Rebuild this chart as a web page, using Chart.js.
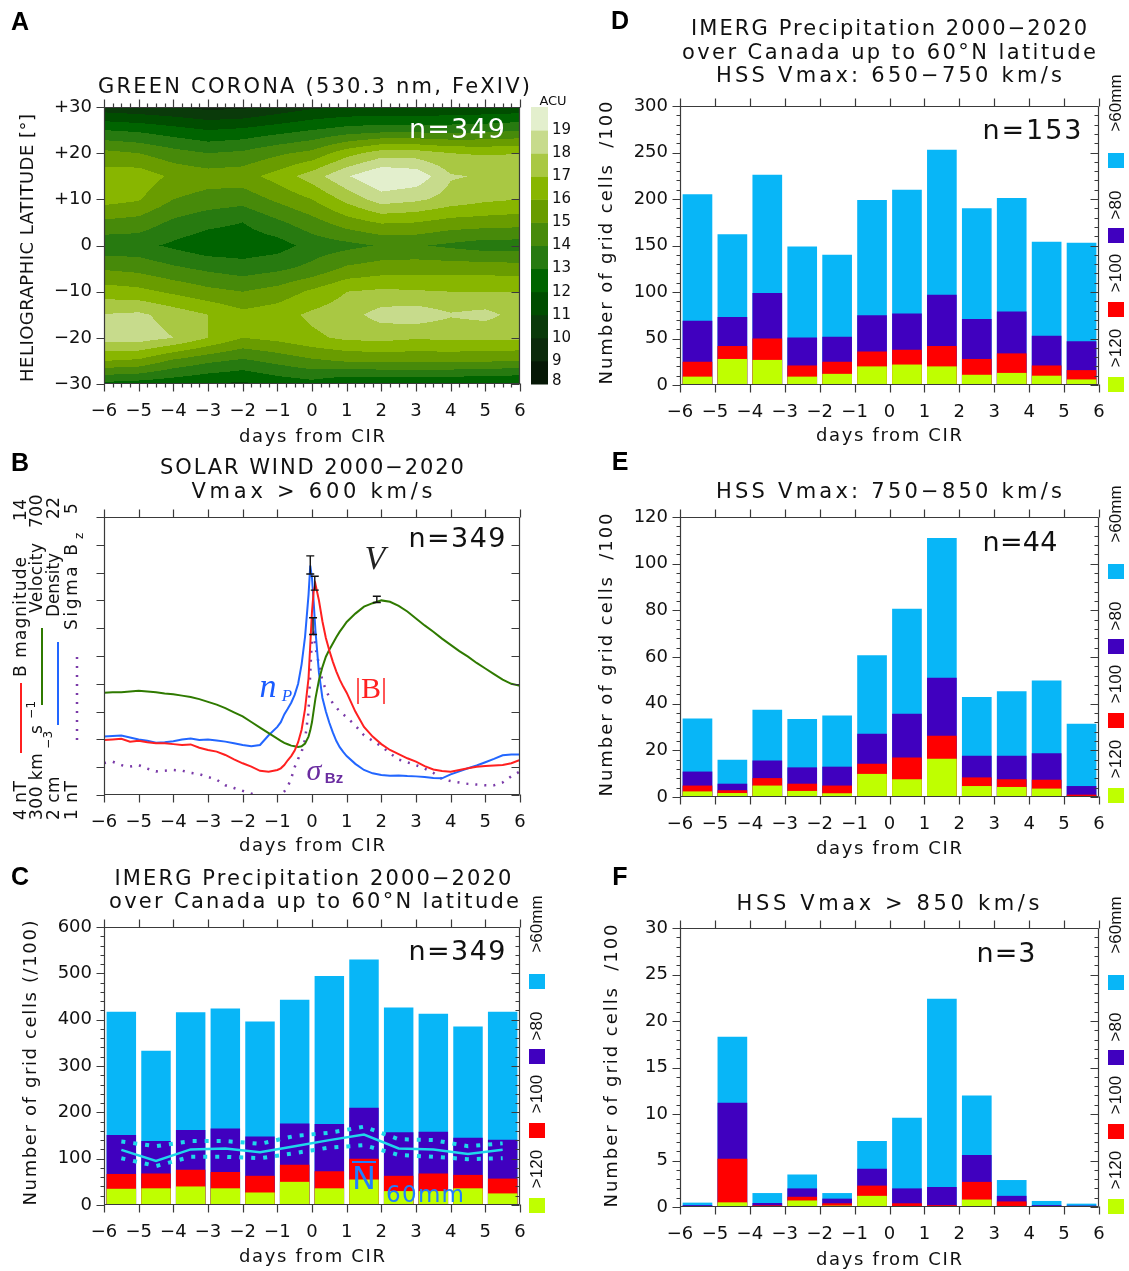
<!DOCTYPE html>
<html>
<head>
<meta charset="utf-8">
<title>Solar wind, green corona and IMERG precipitation around CIR onsets</title>
<script src="https://cdn.jsdelivr.net/npm/chart.js@4.4.1/dist/chart.umd.min.js"></script>
<style>
  html, body { margin: 0; padding: 0; background: #ffffff; }
  #page { position: relative; width: 1129px; height: 1271px; overflow: hidden; background: #fff; }
  #page canvas { position: absolute; left: 0; top: 0; }
</style>
</head>
<body>
<div id="page">
  <canvas id="panelA" width="1129" height="1271"></canvas>
  <canvas id="panelB" width="1129" height="1271"></canvas>
  <canvas id="panelC" width="1129" height="1271"></canvas>
  <canvas id="panelD" width="1129" height="1271"></canvas>
  <canvas id="panelE" width="1129" height="1271"></canvas>
  <canvas id="panelF" width="1129" height="1271"></canvas>
</div>
<script>
// ---------------------------------------------------------------
// Data
// ---------------------------------------------------------------
const dayTicks = [-6, -5, -4, -3, -2, -1, 0, 1, 2, 3, 4, 5, 6];
const barDays  = [-5.5, -4.5, -3.5, -2.5, -1.5, -0.5, 0.5, 1.5, 2.5, 3.5, 4.5, 5.5];

// A: green-corona brightness (ACU) on a day x heliographic-latitude grid
const coronaDays = [-6, -5, -4, -3, -2, -1, 0, 1, 2, 3, 4, 5, 6];
const coronaLats = [30, 25, 20, 15, 10, 5, 0, -5, -10, -15, -20, -25, -30];
const acuLatN30 = [10.4, 10.2, 10.0, 9.7, 9.8, 10.3, 10.8, 11.0, 11.0, 11.0, 11.1, 11.2, 11.3];
const acuLatN25 = [13.0, 12.8, 12.4, 12.0, 12.2, 12.6, 13.0, 13.4, 13.6, 13.6, 13.6, 13.7, 13.9];
const acuLatN20 = [15.3, 15.0, 14.4, 14.0, 14.2, 14.8, 15.3, 16.6, 17.5, 17.5, 17.0, 16.9, 17.0];
const acuLatN15 = [16.5, 16.6, 15.8, 15.5, 15.6, 16.4, 17.5, 18.9, 20.0, 19.7, 18.1, 17.9, 17.5];
const acuLatN10 = [16.4, 16.1, 15.0, 14.6, 14.4, 15.2, 16.0, 17.3, 18.5, 18.2, 17.6, 17.2, 17.0];
const acuLatN05 = [14.8, 14.6, 13.8, 13.3, 13.0, 13.8, 14.6, 15.5, 16.1, 16.0, 15.6, 15.5, 15.4];
const acuLatEq  = [13.3, 13.3, 12.8, 12.3, 12.3, 12.55, 13.4, 13.7, 14.1, 14.1, 13.8, 13.5, 13.5];
const acuLatS05 = [14.9, 14.7, 14.2, 13.8, 13.5, 13.8, 14.3, 15.2, 15.5, 15.6, 15.6, 15.6, 15.5];
const acuLatS10 = [16.5, 16.3, 15.8, 15.3, 15.0, 15.4, 16.2, 17.0, 17.2, 17.1, 17.0, 17.0, 17.0];
const acuLatS15 = [18.05, 18.2, 17.6, 17.0, 16.3, 16.6, 17.2, 17.6, 18.4, 18.6, 18.1, 18.3, 17.6];
const acuLatS20 = [18.4, 18.5, 18.0, 17.0, 16.0, 16.3, 16.8, 17.2, 17.3, 17.1, 17.2, 17.2, 17.2];
const acuLatS25 = [16.0, 15.8, 14.8, 14.2, 13.8, 14.3, 14.8, 15.1, 15.2, 15.2, 15.2, 15.1, 15.0];
const acuLatS30 = [12.7, 12.5, 12.3, 12.0, 11.8, 12.3, 12.6, 12.0, 12.0, 12.0, 12.0, 11.9, 11.8];
const acuLevels = [8, 9, 10, 11, 12, 13, 14, 15, 16, 17, 18, 19, 20];
const acuColors = ['#061806', '#0b2a0b', '#0a3a0a', '#004d00', '#006400', '#277a10',
                   '#478a0a', '#699c00', '#88b600', '#a9c843', '#c7db8c', '#e3efcd'];

// B: solar-wind superposed epochs
const swDays = [-6, -5.75, -5.5, -5.25, -5, -4.75, -4.5, -4.25, -4, -3.75, -3.5, -3.25, -3, -2.75, -2.5, -2.25,
  -2, -1.75, -1.5, -1.25, -1, -0.9, -0.8, -0.7, -0.6, -0.5, -0.4, -0.3, -0.2, -0.1, -0.05, 0, 0.05, 0.1, 0.2,
  0.3, 0.4, 0.5, 0.6, 0.7, 0.8, 0.9, 1, 1.25, 1.5, 1.75, 2, 2.25, 2.5, 2.75, 3, 3.25, 3.5, 3.75, 4, 4.25, 4.5,
  4.75, 5, 5.25, 5.5, 5.75, 6];
const swBmag = [5.98, 6.00, 6.02, 5.92, 5.95, 5.90, 5.86, 5.86, 5.83, 5.80, 5.82, 5.70, 5.62, 5.56, 5.44, 5.28,
  5.14, 5.02, 4.87, 4.84, 4.90, 4.96, 5.08, 5.25, 5.40, 5.60, 5.90, 6.35, 7.1, 8.2, 9.4, 10.6, 11.35, 11.58, 11.0,
  10.25, 9.65, 9.2, 8.8, 8.45, 8.15, 7.9, 7.68, 7.0, 6.45, 6.1, 5.83, 5.62, 5.47, 5.32, 5.20, 5.04, 4.92, 4.86,
  4.84, 4.90, 4.96, 5.02, 5.04, 5.06, 5.08, 5.14, 5.26];
const swVelocity = [447, 448, 448, 449, 450, 449, 448, 446, 445, 443, 441, 438, 434, 430, 425, 419,
  413, 405, 397, 389, 381, 378, 375, 373, 371, 370, 369, 370, 374, 384, 393, 405, 422, 439, 465,
  484, 499, 509, 518, 527, 535, 542, 549, 561, 571, 576, 580, 578, 572, 564, 554, 544, 535, 525,
  516, 507, 499, 490, 482, 474, 466, 460, 457];
const swDensity = [6.20, 6.24, 6.28, 6.14, 6.00, 5.90, 5.76, 5.80, 5.86, 6.00, 6.06, 5.96, 6.00, 5.92, 5.84, 5.72,
  5.60, 5.50, 5.60, 6.30, 6.90, 7.24, 7.80, 8.20, 8.64, 9.20, 10.0, 11.4, 13.4, 16.4, 18.5, 17.6, 15.8, 13.8, 10.8,
  9.0, 8.0, 7.2, 6.5, 5.9, 5.44, 5.10, 4.80, 4.24, 3.80, 3.56, 3.44, 3.38, 3.40, 3.36, 3.34, 3.30, 3.22, 3.20,
  3.48, 3.70, 3.92, 4.12, 4.36, 4.60, 4.86, 4.92, 4.92];
const swSigmaBz = [1.46, 1.48, 1.43, 1.41, 1.43, 1.38, 1.34, 1.35, 1.36, 1.35, 1.32, 1.30, 1.26, 1.22, 1.14, 1.10,
  1.06, 1.02, 0.98, 0.96, 0.96, 1.00, 1.05, 1.12, 1.24, 1.40, 1.52, 1.62, 1.80, 2.20, 2.76, 3.28, 3.32, 3.12, 2.88,
  2.64, 2.52, 2.40, 2.32, 2.26, 2.20, 2.16, 2.12, 2.00, 1.86, 1.78, 1.70, 1.60, 1.51, 1.47, 1.43, 1.38, 1.32, 1.23,
  1.20, 1.18, 1.16, 1.15, 1.14, 1.14, 1.18, 1.27, 1.34];
// peak uncertainties: day, low, high, quantity axis
const swErrDays = [-0.05, 0.08, 0.03, 1.87];
const swErrLow  = [17.9, 11.37, 3.31, 577];
const swErrHigh = [19.2, 11.87, 3.55, 586];
const swErrAxis = ['yN', 'yB', 'yS', 'yV'];

// C: all HSS events (n=349), grid cells /100 exceeding each threshold
const cGt60  = [417, 333, 416, 424, 396, 443, 494, 530, 426, 413, 385, 417];
const cGt80  = [151, 138, 162, 165, 148, 176, 175, 210, 157, 158, 145, 141];
const cGt100 = [67, 68, 76, 71, 63, 87, 73, 100, 63, 68, 65, 57];
const cGt120 = [35, 36, 40, 36, 27, 50, 36, 55, 30, 30, 36, 25];
const cN60mean  = [119, 95, 120, 122, 114, 127, 140, 152, 122, 120, 110, 119];
const cN60upper = [137, 127, 138, 138, 132, 149, 156, 169, 142, 140, 127, 133];
const cN60lower = [101, 84, 104, 104, 101, 112, 124, 129, 108, 104, 99, 101];

// D: HSS Vmax 650-750 km/s (n=153)
const dGt60  = [205, 162, 226, 149, 140, 199, 210, 253, 190, 201, 154, 153];
const dGt80  = [69, 73, 99, 51, 52, 75, 77, 97, 71, 79, 53, 47];
const dGt100 = [25, 42, 50, 21, 25, 36, 38, 42, 28, 34, 21, 16];
const dGt120 = [9, 28, 27, 9, 12, 20, 22, 20, 11, 13, 10, 6];

// E: HSS Vmax 750-850 km/s (n=44)
const eGt60  = [33.6, 16.0, 37.4, 33.4, 34.9, 60.7, 80.7, 111.0, 42.9, 45.3, 49.9, 31.4];
const eGt80  = [10.9, 5.7, 15.6, 12.7, 13.0, 27.1, 35.7, 51.1, 17.7, 17.7, 18.7, 4.7];
const eGt100 = [4.9, 2.9, 8.1, 5.7, 4.9, 14.3, 16.9, 26.3, 8.4, 7.6, 7.4, 1.0];
const eGt120 = [2.4, 1.7, 4.9, 2.6, 1.6, 9.9, 7.6, 16.4, 4.7, 4.3, 3.6, 0.4];

// F: HSS Vmax > 850 km/s (n=3)
const fGt60  = [0.47, 18.3, 1.5, 3.5, 1.5, 7.1, 9.6, 22.4, 12.0, 2.9, 0.65, 0.36];
const fGt80  = [0.2, 11.2, 0.43, 2.0, 0.9, 4.1, 2.0, 2.15, 5.6, 1.2, 0.2, 0.15];
const fGt100 = [0.1, 5.2, 0.18, 1.1, 0.4, 2.3, 0.4, 0.2, 2.7, 0.6, 0.1, 0.07];
const fGt120 = [0.07, 0.5, 0.1, 0.7, 0.15, 1.2, 0.07, 0.03, 0.8, 0.1, 0.03, 0.03];

// ---------------------------------------------------------------
// Styling
// ---------------------------------------------------------------
const FONT  = "'DejaVu Sans', 'Liberation Sans', Arial, sans-serif";
const NARROW = "'Liberation Sans', Arial, sans-serif";
const SERIF = "'Liberation Serif', 'DejaVu Serif', 'Times New Roman', serif";
const SKY = '#08b6f7', PURPLE = '#4000bf', RED = '#ff0000', LIME = '#bfff00', CYAN = '#1fd8ea';
const INK = '#111111', FRAME = '#3a3a3a';
const PAGE_W = 1129, PAGE_H = 1271;
const X_AXIS_H = 40, Y_AXIS_W = 70;
const TITLE = '21px ' + FONT, LABEL = '18px ' + FONT, NTXT = '27px ' + FONT, LETTER = 'bold 25px ' + NARROW;

Chart.defaults.font.family = FONT;
Chart.defaults.color = INK;

const minusFmt = v => (v < 0 ? '\u2212' + Math.abs(v) : String(v));
const latFmt = v => (v > 0 ? '+' + v : minusFmt(v));

// ---------------------------------------------------------------
// Text helpers
// ---------------------------------------------------------------
// centred text stretched to a given width (width null keeps natural spacing)
function fitText(ctx, s, cx, cy, width, font, color, rotate) {
  ctx.save();
  ctx.font = font;
  ctx.fillStyle = color;
  ctx.textBaseline = 'middle';
  ctx.textAlign = 'left';
  const hasLS = 'letterSpacing' in ctx;
  if (hasLS) ctx.letterSpacing = '0px';
  const n = Array.from(s).length;
  const w0 = ctx.measureText(s).width;
  const ls = (hasLS && n > 1 && width) ? (width - w0) / (n - 1) : 0;
  if (hasLS) ctx.letterSpacing = ls.toFixed(2) + 'px';
  const total = w0 + ls * (n - 1);
  ctx.translate(cx, cy);
  if (rotate) ctx.rotate(rotate);
  ctx.fillText(s, -total / 2, 0);
  ctx.restore();
}
function plainText(ctx, s, x, y, font, color, align, spacing) {
  ctx.save();
  ctx.font = font;
  ctx.fillStyle = color;
  ctx.textBaseline = 'middle';
  ctx.textAlign = align || 'left';
  if ('letterSpacing' in ctx) ctx.letterSpacing = (spacing || 0) + 'px';
  ctx.fillText(s, x, y);
  ctx.restore();
}
// vertical text reading upwards from yBottom; optional length stretches the spacing
function upText(ctx, s, cx, yBottom, font, color, length) {
  ctx.save();
  ctx.font = font;
  ctx.fillStyle = color;
  ctx.textBaseline = 'middle';
  ctx.textAlign = 'left';
  const hasLS = 'letterSpacing' in ctx;
  if (hasLS) {
    ctx.letterSpacing = '0px';
    const n = Array.from(s).length;
    const w0 = ctx.measureText(s).width;
    const ls = (length && n > 1) ? (length - w0) / (n - 1) : 0.5;
    ctx.letterSpacing = ls.toFixed(2) + 'px';
  }
  ctx.translate(cx, yBottom);
  ctx.rotate(-Math.PI / 2);
  ctx.fillText(s, 0, 0);
  ctx.restore();
}

// ---------------------------------------------------------------
// Shared axis / layout builders
// ---------------------------------------------------------------
function layoutFor(area, yW) {
  return { padding: {
    left: area.left - yW,
    right: PAGE_W - area.right,
    top: area.top,
    bottom: PAGE_H - area.bottom - X_AXIS_H
  } };
}
function dayAxis() {
  return {
    type: 'linear', position: 'bottom', min: -6, max: 6, offset: false,
    grid: { display: false, drawTicks: false }, border: { display: false },
    ticks: { stepSize: 1, autoSkip: false, maxRotation: 0, padding: 17, color: INK,
             font: { family: FONT, size: 18 }, callback: minusFmt },
    afterFit(s) { s.height = X_AXIS_H; }
  };
}
function valueAxis(min, max, step, fmt) {
  return {
    type: 'linear', position: 'left', min, max,
    grid: { display: false, drawTicks: false }, border: { display: false },
    ticks: { stepSize: step, autoSkip: false, padding: 12, color: INK,
             font: { family: FONT, size: 18 }, callback: fmt || (v => String(v)) },
    afterFit(s) { s.width = Y_AXIS_W; }
  };
}
function hiddenAxis(min, max) {
  return { type: 'linear', display: false, min, max };
}

// frame with major/minor ticks on all four sides
function frameTicks(id, yId, yMajorStep, yMinorStep, xMinorStep) {
  return {
    id,
    afterDatasetsDraw(chart) {
      const { ctx, chartArea: a, scales } = chart;
      const xs = scales.x, ys = scales[yId];
      const L = Math.round(a.left) + 0.5, R = Math.round(a.right) - 0.5;
      const T = Math.round(a.top) + 0.5, B = Math.round(a.bottom) - 0.5;
      ctx.save();
      ctx.strokeStyle = FRAME;
      ctx.lineWidth = 1.2;
      ctx.beginPath();
      const seg = (x1, y1, x2, y2) => { ctx.moveTo(x1, y1); ctx.lineTo(x2, y2); };
      seg(L, T, R, T); seg(R, T, R, B); seg(R, B, L, B); seg(L, B, L, T);
      for (const d of dayTicks) {
        const p = Math.round(xs.getPixelForValue(d)) + 0.5;
        seg(p, B, p, B + 8); seg(p, T, p, T - 8);
      }
      if (xMinorStep) {
        for (let k = 0; k * xMinorStep <= 12 + 1e-9; k++) {
          const p = Math.round(xs.getPixelForValue(-6 + k * xMinorStep)) + 0.5;
          seg(p, B, p, B + 4); seg(p, T, p, T - 4);
        }
      }
      const nMaj = Math.round((ys.max - ys.min) / yMajorStep);
      for (let k = 0; k <= nMaj; k++) {
        const p = Math.round(ys.getPixelForValue(ys.min + k * yMajorStep)) + 0.5;
        seg(L - 8, p, L, p); seg(R - 8, p, R, p);
      }
      if (yMinorStep) {
        const nMin = Math.round((ys.max - ys.min) / yMinorStep);
        for (let k = 0; k <= nMin; k++) {
          const p = Math.round(ys.getPixelForValue(ys.min + k * yMinorStep)) + 0.5;
          seg(L - 4, p, L, p); seg(R - 4, p, R, p);
        }
      }
      ctx.stroke();
      ctx.restore();
    }
  };
}

// threshold key on the right of the precipitation panels
function thresholdKey(ctx, a) {
  const x0 = a.right + 9, cx = a.right + 17;
  const items = [['>60mm', SKY, -3, 47], ['>80', PURPLE, 99, 122], ['>100', RED, 167, 196], ['>120', LIME, 242, 271]];
  for (const [txt, col, ty, sy] of items) {
    ctx.fillStyle = col;
    ctx.fillRect(x0, a.top + sy, 16, 15);
    fitText(ctx, txt, cx, a.top + ty, null, '17px ' + NARROW, INK, -Math.PI / 2);
  }
}

function barSets(gt120, gt100, gt80, gt60) {
  const mk = (label, vals, color) => ({
    type: 'bar', label, data: vals.map((v, i) => ({ x: barDays[i], y: v })),
    backgroundColor: color, borderWidth: 0, grouped: false,
    barPercentage: 0.85, categoryPercentage: 1
  });
  return [mk('>120mm', gt120, LIME), mk('>100mm', gt100, RED), mk('>80mm', gt80, PURPLE), mk('>60mm', gt60, SKY)];
}

const baseOptions = {
  responsive: false, animation: false, events: [],
  plugins: { legend: { display: false }, tooltip: { enabled: false } }
};

// ---------------------------------------------------------------
// Panel A: filled contours of green-corona brightness
// ---------------------------------------------------------------
const acuGrid = [acuLatN30, acuLatN25, acuLatN20, acuLatN15, acuLatN10, acuLatN05, acuLatEq,
                 acuLatS05, acuLatS10, acuLatS15, acuLatS20, acuLatS25, acuLatS30];
function bracket(arr, v) {
  const n = arr.length;
  const asc = arr[n - 1] > arr[0];
  let i = 0;
  while (i < n - 2 && (asc ? v > arr[i + 1] : v < arr[i + 1])) i++;
  const t = (v - arr[i]) / (arr[i + 1] - arr[i]);
  return [i, Math.min(1, Math.max(0, t))];
}
function acuAt(day, lat) {
  const [i, tx] = bracket(coronaDays, day);
  const [j, ty] = bracket(coronaLats, lat);
  const g = acuGrid;
  return (1 - tx) * (1 - ty) * g[j][i] + tx * (1 - ty) * g[j][i + 1] +
         (1 - tx) * ty * g[j + 1][i] + tx * ty * g[j + 1][i + 1];
}
function acuBand(v) {
  let k = 0;
  while (k < acuColors.length - 1 && v >= acuLevels[k + 1]) k++;
  return k;
}
const contourPlugin = {
  id: 'acuContours',
  beforeDatasetsDraw(chart) {
    const { ctx, chartArea: a, scales: { x, y } } = chart;
    const x0 = Math.round(a.left), x1 = Math.round(a.right);
    const y0 = Math.round(a.top), y1 = Math.round(a.bottom);
    ctx.save();
    for (let py = y0; py < y1; py++) {
      const lat = y.getValueForPixel(py + 0.5);
      let runStart = x0, runBand = -1;
      for (let px = x0; px <= x1; px++) {
        const band = px < x1 ? acuBand(acuAt(x.getValueForPixel(px + 0.5), lat)) : -2;
        if (band !== runBand) {
          if (runBand >= 0) {
            ctx.fillStyle = acuColors[runBand];
            ctx.fillRect(runStart, py, px - runStart, 1);
          }
          runStart = px; runBand = band;
        }
      }
    }
    ctx.restore();
  }
};
const decoA = {
  id: 'decoA',
  afterDraw(chart) {
    const ctx = chart.ctx, a = chart.chartArea;
    // colour bar
    const bx = a.right + 11, bw = 17, H = a.bottom - a.top;
    const n = acuColors.length;
    for (let k = 0; k < n; k++) {
      const yTop = a.bottom - (k + 1) * H / n, yBot = a.bottom - k * H / n;
      ctx.fillStyle = acuColors[k];
      ctx.fillRect(bx, yTop, bw, yBot - yTop + 0.5);
    }
    for (let k = 0; k < n; k++) {
      const yy = a.bottom - k * H / n;
      plainText(ctx, String(acuLevels[k]), bx + bw + 4, k === 0 ? yy - 3 : yy, '15px ' + FONT, INK);
    }
    fitText(ctx, 'ACU', bx + 22, a.top - 5, 27, '13px ' + FONT, INK);
    plainText(ctx, 'A', 20, 23, LETTER, '#000', 'center');
    fitText(ctx, 'GREEN CORONA (530.3 nm, FeXIV)', 314, 88, 432, TITLE, INK);
    fitText(ctx, 'n=349', 457, 131, 96, NTXT, '#ffffff');
    fitText(ctx, 'HELIOGRAPHIC LATITUDE [\u00b0]', 28, 248, 268, LABEL, INK, -Math.PI / 2);
    fitText(ctx, 'days from CIR', 312, 437, 146, LABEL, INK);
  }
};
new Chart(document.getElementById('panelA'), {
  type: 'scatter',
  data: { datasets: [] },
  options: Object.assign({}, baseOptions, {
    layout: layoutFor({ left: 104, right: 520, top: 107, bottom: 384 }, Y_AXIS_W),
    scales: { x: dayAxis(), y: valueAxis(-30, 30, 10, latFmt) }
  }),
  plugins: [contourPlugin, frameTicks('frameA', 'y', 10, 0, 0.25), decoA]
});

// ---------------------------------------------------------------
// Panel B: solar wind parameters
// ---------------------------------------------------------------
const pts = arr => arr.map((v, i) => ({ x: swDays[i], y: v }));
const errorBars = {
  id: 'swErrorBars',
  afterDatasetsDraw(chart) {
    const ctx = chart.ctx, xs = chart.scales.x;
    ctx.save();
    ctx.strokeStyle = '#111';
    ctx.lineWidth = 1.4;
    ctx.beginPath();
    for (let k = 0; k < swErrDays.length; k++) {
      const ys = chart.scales[swErrAxis[k]];
      const px = xs.getPixelForValue(swErrDays[k]);
      const p1 = ys.getPixelForValue(swErrLow[k]), p2 = ys.getPixelForValue(swErrHigh[k]);
      ctx.moveTo(px, p1); ctx.lineTo(px, p2);
      ctx.moveTo(px - 4, p1); ctx.lineTo(px + 4, p1);
      ctx.moveTo(px - 4, p2); ctx.lineTo(px + 4, p2);
    }
    ctx.stroke();
    ctx.restore();
  }
};
const decoB = {
  id: 'decoB',
  afterDraw(chart) {
    const ctx = chart.ctx;
    ctx.save();
    plainText(ctx, 'B', 20, 464, LETTER, '#000', 'center');
    fitText(ctx, 'SOLAR WIND 2000\u22122020', 312, 469, 304, TITLE, INK);
    fitText(ctx, 'Vmax > 600 km/s', 312, 493, 241, TITLE, INK);
    fitText(ctx, 'n=349', 457, 540, 97, NTXT, INK);
    fitText(ctx, 'days from CIR', 312, 846, 146, LABEL, INK);
    // curve labels
    plainText(ctx, 'V', 375, 560, 'italic 34px ' + SERIF, '#222', 'center');
    plainText(ctx, 'n', 268, 688, 'italic 34px ' + SERIF, '#1a5cff', 'center');
    plainText(ctx, 'P', 287, 697, 'italic 17px ' + SERIF, '#1a5cff', 'center');
    plainText(ctx, '|B|', 371, 690, '30px ' + SERIF, '#ff2020', 'center');
    plainText(ctx, '\u03c3', 314, 772, 'italic 30px ' + SERIF, '#6a2ca0', 'center');
    plainText(ctx, 'Bz', 334, 779, 'bold 15px ' + NARROW, '#6a2ca0', 'center');
    // quantity scales on the left
    const f17 = '17px ' + FONT, f12 = '12px ' + FONT;
    upText(ctx, '4 nT', 22, 820, f17, INK);
    upText(ctx, 'B magnitude', 22, 677, f17, INK, 120);
    upText(ctx, '14', 22, 521, f17, INK);
    upText(ctx, '300 km', 38, 820, f17, INK);
    upText(ctx, 's', 38, 734, f17, INK);
    upText(ctx, '\u22121', 32, 719, f12, INK);
    upText(ctx, 'Velocity', 38, 613, f17, INK, 70);
    upText(ctx, '700', 38, 528, f17, INK);
    upText(ctx, '2 cm', 55, 820, f17, INK);
    upText(ctx, '\u22123', 49, 749, f12, INK);
    upText(ctx, 'Density', 55, 617, f17, INK, 64);
    upText(ctx, '22', 55, 519, f17, INK);
    upText(ctx, '1 nT', 73, 820, f17, INK);
    upText(ctx, 'Sigma B', 73, 630, f17, INK, 86);
    upText(ctx, 'z', 80, 539, f12, INK);
    upText(ctx, '5', 73, 514, f17, INK);
    ctx.lineWidth = 2;
    ctx.strokeStyle = '#ff2020';
    ctx.beginPath(); ctx.moveTo(21, 753); ctx.lineTo(21, 683); ctx.stroke();
    ctx.strokeStyle = '#2f7a00';
    ctx.beginPath(); ctx.moveTo(42, 705); ctx.lineTo(42, 628); ctx.stroke();
    ctx.strokeStyle = '#2266ff';
    ctx.beginPath(); ctx.moveTo(58, 725); ctx.lineTo(58, 642); ctx.stroke();
    ctx.strokeStyle = '#7a3aa8';
    ctx.lineWidth = 2.5;
    ctx.setLineDash([2, 7]);
    ctx.beginPath(); ctx.moveTo(77, 740); ctx.lineTo(77, 655); ctx.stroke();
    ctx.restore();
  }
};
new Chart(document.getElementById('panelB'), {
  type: 'line',
  data: { datasets: [
    { label: 'B magnitude', data: pts(swBmag), yAxisID: 'yB', borderColor: '#ff2020', borderWidth: 2, pointRadius: 0, tension: 0 },
    { label: 'Velocity', data: pts(swVelocity), yAxisID: 'yV', borderColor: '#2f7a00', borderWidth: 2, pointRadius: 0, tension: 0 },
    { label: 'Density', data: pts(swDensity), yAxisID: 'yN', borderColor: '#2266ff', borderWidth: 2, pointRadius: 0, tension: 0 },
    { label: 'Sigma Bz', data: pts(swSigmaBz), yAxisID: 'yS', borderColor: '#7a3aa8', borderWidth: 2.5,
      borderDash: [2, 7], pointRadius: 0, tension: 0 }
  ] },
  options: Object.assign({}, baseOptions, {
    layout: layoutFor({ left: 104, right: 520, top: 517, bottom: 795 }, 0),
    scales: {
      x: dayAxis(),
      yB: hiddenAxis(4, 14),
      yV: hiddenAxis(300, 700),
      yN: hiddenAxis(2, 22),
      yS: hiddenAxis(1, 5)
    }
  }),
  plugins: [errorBars, frameTicks('frameB', 'yB', 1, 0, 0), decoB]
});

// ---------------------------------------------------------------
// Panel C: IMERG precipitation, all events
// ---------------------------------------------------------------
const linePts = arr => arr.map((v, i) => ({ x: barDays[i], y: v }));
const decoC = {
  id: 'decoC',
  afterDraw(chart) {
    const ctx = chart.ctx;
    thresholdKey(ctx, chart.chartArea);
    plainText(ctx, 'C', 20, 878, LETTER, '#000', 'center');
    fitText(ctx, 'IMERG Precipitation 2000\u22122020', 313, 880, 397, TITLE, INK);
    fitText(ctx, 'over Canada up to 60\u00b0N latitude', 314, 903, 410, TITLE, INK);
    fitText(ctx, 'n=349', 457, 953, 97, NTXT, INK);
    fitText(ctx, 'Number of grid cells (/100)', 31, 1063, 285, LABEL, INK, -Math.PI / 2);
    fitText(ctx, 'days from CIR', 312, 1257, 146, LABEL, INK);
    plainText(ctx, 'N', 364, 1181, '32px ' + FONT, '#1f7fff', 'center');
    ctx.fillStyle = '#1f7fff';
    ctx.fillRect(352, 1161, 24, 2);
    fitText(ctx, '60mm', 425, 1196, 78, '23px ' + FONT, '#1f7fff');
  }
};
new Chart(document.getElementById('panelC'), {
  type: 'bar',
  data: { datasets: [
    { type: 'line', label: 'N60mm', data: linePts(cN60mean), borderColor: CYAN, borderWidth: 2.5, pointRadius: 0, order: -1 },
    { type: 'line', label: 'N60mm upper', data: linePts(cN60upper), borderColor: CYAN, borderWidth: 4,
      borderDash: [4, 8], pointRadius: 0, order: -1 },
    { type: 'line', label: 'N60mm lower', data: linePts(cN60lower), borderColor: CYAN, borderWidth: 4,
      borderDash: [4, 8], pointRadius: 0, order: -1 }
  ].concat(barSets(cGt120, cGt100, cGt80, cGt60)) },
  options: Object.assign({}, baseOptions, {
    layout: layoutFor({ left: 104, right: 520, top: 927, bottom: 1205 }, Y_AXIS_W),
    scales: { x: dayAxis(), y: valueAxis(0, 600, 100) }
  }),
  plugins: [frameTicks('frameC', 'y', 100, 20, 0), decoC]
});

// ---------------------------------------------------------------
// Panels D-F: precipitation by HSS speed class
// ---------------------------------------------------------------
function hssPanel(id, area, yMax, yStep, yMinor, sets, drawText) {
  new Chart(document.getElementById(id), {
    type: 'bar',
    data: { datasets: sets },
    options: Object.assign({}, baseOptions, {
      layout: layoutFor(area, Y_AXIS_W),
      scales: { x: dayAxis(), y: valueAxis(0, yMax, yStep) }
    }),
    plugins: [frameTicks('frame' + id, 'y', yStep, yMinor, 0), {
      id: 'deco' + id,
      afterDraw(chart) {
        thresholdKey(chart.ctx, chart.chartArea);
        drawText(chart.ctx);
      }
    }]
  });
}
hssPanel('panelD', { left: 680, right: 1099, top: 106, bottom: 385 }, 300, 50, 10,
  barSets(dGt120, dGt100, dGt80, dGt60), ctx => {
    plainText(ctx, 'D', 620, 22, LETTER, '#000', 'center');
    fitText(ctx, 'IMERG Precipitation 2000\u22122020', 889, 30, 396, TITLE, INK);
    fitText(ctx, 'over Canada up to 60\u00b0N latitude', 889, 54, 414, TITLE, INK);
    fitText(ctx, 'HSS Vmax: 650\u2212750 km/s', 889, 77, 346, TITLE, INK);
    fitText(ctx, 'n=153', 1032, 132, 99, NTXT, INK);
    fitText(ctx, 'Number of grid cells  /100', 607, 243, 283, LABEL, INK, -Math.PI / 2);
    fitText(ctx, 'days from CIR', 889, 436, 146, LABEL, INK);
  });
hssPanel('panelE', { left: 680, right: 1099, top: 517, bottom: 797 }, 120, 20, 4,
  barSets(eGt120, eGt100, eGt80, eGt60), ctx => {
    plainText(ctx, 'E', 620, 463, LETTER, '#000', 'center');
    fitText(ctx, 'HSS Vmax: 750\u2212850 km/s', 889, 493, 346, TITLE, INK);
    fitText(ctx, 'n=44', 1020, 544, 75, NTXT, INK);
    fitText(ctx, 'Number of grid cells  /100', 607, 655, 283, LABEL, INK, -Math.PI / 2);
    fitText(ctx, 'days from CIR', 889, 849, 146, LABEL, INK);
  });
hssPanel('panelF', { left: 680, right: 1099, top: 928, bottom: 1207 }, 30, 5, 1,
  barSets(fGt120, fGt100, fGt80, fGt60), ctx => {
    plainText(ctx, 'F', 620, 878, LETTER, '#000', 'center');
    fitText(ctx, 'HSS Vmax > 850 km/s', 888, 905, 303, TITLE, INK);
    fitText(ctx, 'n=3', 1006, 955, 59, NTXT, INK);
    fitText(ctx, 'Number of grid cells  /100', 612, 1066, 283, LABEL, INK, -Math.PI / 2);
    fitText(ctx, 'days from CIR', 889, 1260, 146, LABEL, INK);
  });
</script>
</body>
</html>
